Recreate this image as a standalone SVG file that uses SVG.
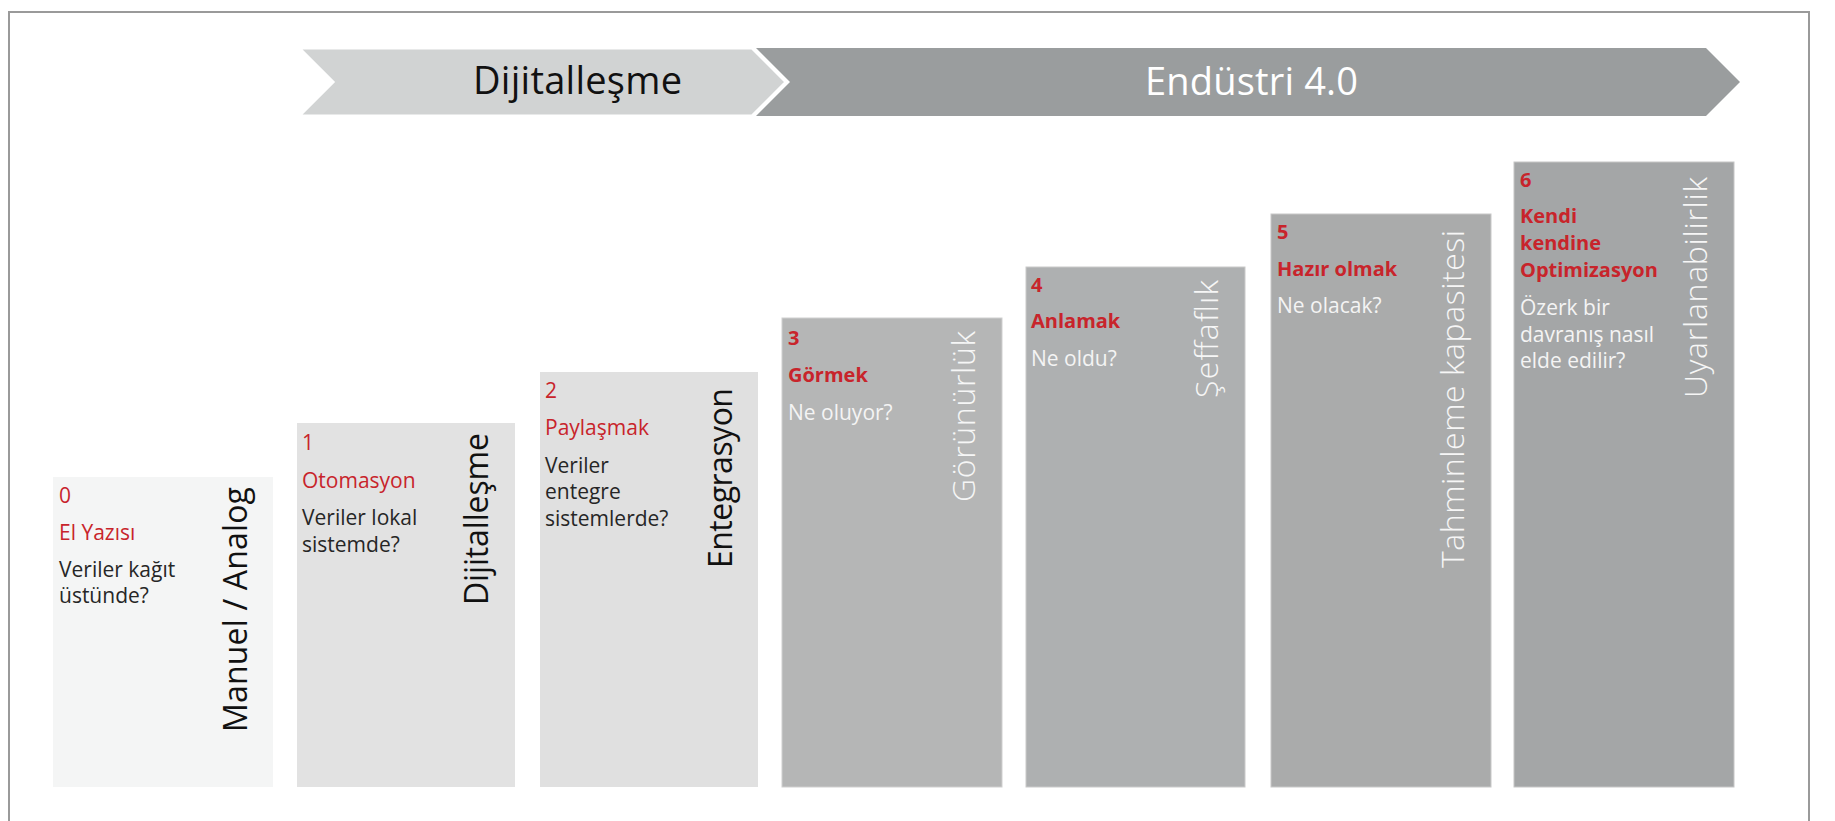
<svg xmlns="http://www.w3.org/2000/svg" width="1835" height="821" viewBox="0 0 1835 821">
<style>
text{font-family:"Open Sans","Noto Sans","Liberation Sans",sans-serif;}
.num{font-size:21px;fill:#c8242b;}
.ttl{font-size:21px;fill:#c8242b;}
.b{font-weight:700;font-size:20px;}
.dk{font-size:21px;fill:#262626;}
.wt{font-size:21px;fill:#f4f4f4;}
.vk{font-size:32px;fill:#111111;}
.vw{font-size:32px;fill:#f6f6f6;font-weight:300;}
.phase{font-size:38px;}
</style>
<rect width="1835" height="821" fill="#ffffff"/>
<path d="M9,821 V12 H1809 V821" fill="none" stroke="#9a9a9a" stroke-width="2"/>

<g id="phase-endustri">
<polygon points="756,48 1706,48 1740,82 1706,116 756,116 790,82" fill="#9a9d9e"/>
<text class="phase" x="1145" y="95" fill="#ffffff" textLength="213">Endüstri 4.0</text>
</g>
<g id="phase-dijital">
<polygon points="299,48 752,48 786,82 752,116 299,116 333,82" fill="#d1d3d3" stroke="#ffffff" stroke-width="3" stroke-linejoin="miter"/>
<text class="phase" x="473" y="94" fill="#111111" textLength="209">Dijitalleşme</text>
</g>

<g id="step0">
<rect x="53" y="477" width="220" height="310" fill="#f4f5f5"/>
<text class="num" x="59" y="503">0</text>
<text class="ttl" x="59" y="540">El Yazısı</text>
<text class="dk" x="59" y="577">Veriler kağıt</text>
<text class="dk" x="59" y="603">üstünde?</text>
<text class="vk" transform="translate(247,732) rotate(-90)" textLength="245">Manuel / Analog</text>
</g>

<g id="step1">
<rect x="297" y="423" width="218" height="364" fill="#e2e2e2"/>
<text class="num" x="302" y="450">1</text>
<text class="ttl" x="302" y="488">Otomasyon</text>
<text class="dk" x="302" y="525">Veriler lokal</text>
<text class="dk" x="302" y="552">sistemde?</text>
<text class="vk" transform="translate(488,605) rotate(-90)" textLength="172">Dijitalleşme</text>
</g>

<g id="step2">
<rect x="540" y="372" width="218" height="415" fill="#e0e0e0"/>
<text class="num" x="545" y="398">2</text>
<text class="ttl" x="545" y="435">Paylaşmak</text>
<text class="dk" x="545" y="473">Veriler</text>
<text class="dk" x="545" y="499">entegre</text>
<text class="dk" x="545" y="526">sistemlerde?</text>
<text class="vk" transform="translate(732,568) rotate(-90)" textLength="180">Entegrasyon</text>
</g>

<g id="step3">
<rect x="782" y="318" width="220" height="469" fill="#b5b6b6" stroke="#cfcfcf" stroke-width="1"/>
<text class="num b" x="788" y="345">3</text>
<text class="ttl b" x="788" y="382">Görmek</text>
<text class="wt" x="788" y="420">Ne oluyor?</text>
<text class="vw" transform="translate(975,502) rotate(-90)" textLength="171">Görünürlük</text>
</g>

<g id="step4">
<rect x="1026" y="267" width="219" height="520" fill="#aeb0b1" stroke="#cacaca" stroke-width="1"/>
<text class="num b" x="1031" y="292">4</text>
<text class="ttl b" x="1031" y="328">Anlamak</text>
<text class="wt" x="1031" y="366">Ne oldu?</text>
<text class="vw" transform="translate(1218,398) rotate(-90)" textLength="118">Şeffaflık</text>
</g>

<g id="step5">
<rect x="1271" y="214" width="220" height="573" fill="#aaabab" stroke="#c8c8c8" stroke-width="1"/>
<text class="num b" x="1277" y="239">5</text>
<text class="ttl b" x="1277" y="276">Hazır olmak</text>
<text class="wt" x="1277" y="313">Ne olacak?</text>
<text class="vw" transform="translate(1464,568) rotate(-90)" textLength="338">Tahminleme kapasitesi</text>
</g>

<g id="step6">
<rect x="1514" y="162" width="220" height="625" fill="#a4a6a7" stroke="#c6c6c6" stroke-width="1"/>
<text class="num b" x="1520" y="187">6</text>
<text class="ttl b" x="1520" y="223">Kendi</text>
<text class="ttl b" x="1520" y="250">kendine</text>
<text class="ttl b" x="1520" y="277">Optimizasyon</text>
<text class="wt" x="1520" y="315">Özerk bir</text>
<text class="wt" x="1520" y="342">davranış nasıl</text>
<text class="wt" x="1520" y="368">elde edilir?</text>
<text class="vw" transform="translate(1707,398) rotate(-90)" textLength="221">Uyarlanabilirlik</text>
</g>
</svg>
